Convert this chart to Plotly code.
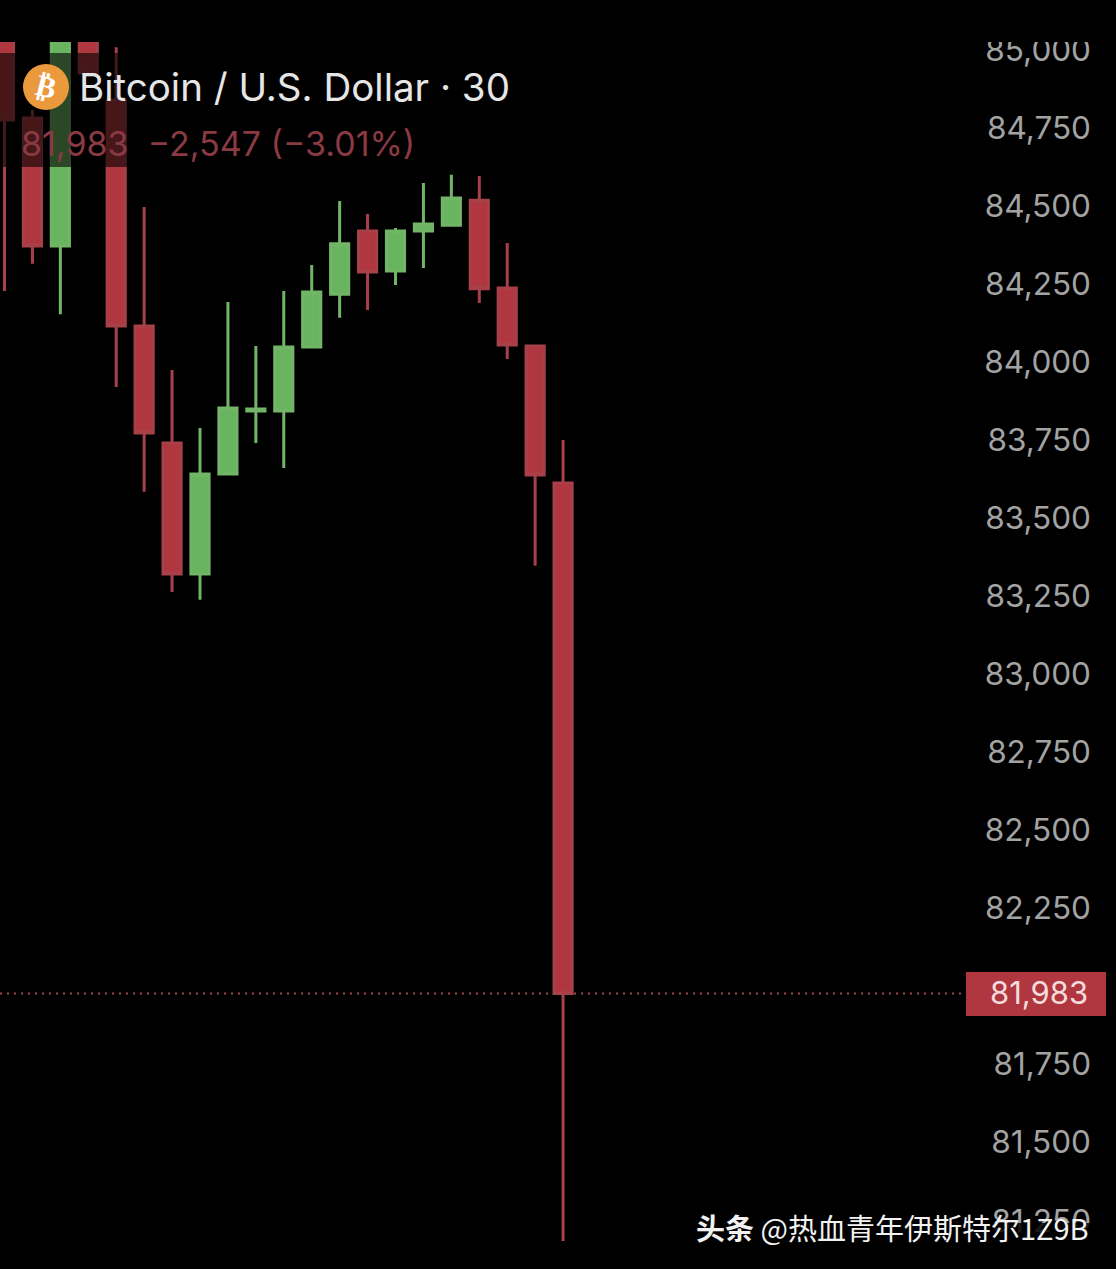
import plotly.graph_objects as go

W = 1116
H = 1269

candle_idx = list(range(21))
opens = [85100, 84787, 84377, 85060, 84845, 84121, 83746, 83327, 83647, 83849, 83849,
         84054, 84223, 84425, 84297, 84425, 84444, 84524, 84243, 84057, 83618]
highs = [85150, 84813, 85090, 85080, 85014, 84502, 83980, 83794, 84198, 84057, 84233,
         84316, 84521, 84480, 84435, 84579, 84605, 84601, 84387, 84060, 83756]
lows = [84233, 84320, 84159, 84931, 83926, 83590, 83269, 83244, 83647, 83746, 83666,
        84051, 84147, 84172, 84252, 84307, 84444, 84195, 84015, 83353, 81191]
closes = [84781, 84377, 85060, 84931, 84121, 83778, 83327, 83647, 83858, 83855, 84054,
          84230, 84384, 84294, 84425, 84448, 84531, 84240, 84060, 83644, 81983]

price_ticks = [85000, 84750, 84500, 84250, 84000, 83750, 83500, 83250, 83000,
               82750, 82500, 82250, 81750, 81500, 81250]
price_labels = ["85,000", "84,750", "84,500", "84,250", "84,000", "83,750", "83,500", "83,250", "83,000",
                "82,750", "82,500", "82,250", "81,750", "81,500", "81,250"]
last_price = 81983


def px_x(x):
    return x / W


def px_y(y):
    return 1 - y / H


fig = go.Figure()
fig.add_candlestick(
    x=candle_idx,
    open=opens,
    high=highs,
    low=lows,
    close=closes,
    increasing=dict(fillcolor="#69b55f", line=dict(color="#72b569", width=3)),
    decreasing=dict(fillcolor="#b0373f", line=dict(color="#a8404a", width=3)),
    whiskerwidth=0,
    showlegend=False,
)

shapes = [
    # dim band behind the header text
    dict(type="rect", xref="paper", yref="paper", x0=0, x1=px_x(520), y0=px_y(167), y1=px_y(53),
         fillcolor="rgba(0,0,0,0.6)", line_width=0),
    # top strip cuts the candles and the 85,000 label
    dict(type="rect", xref="paper", yref="paper", x0=0, x1=1, y0=px_y(42), y1=1,
         fillcolor="#000000", line_width=0),
    # watermark shadow over 81,250
    dict(type="rect", xref="paper", yref="paper", x0=px_x(980), x1=px_x(1095), y0=px_y(1240), y1=px_y(1223),
         fillcolor="rgba(0,0,0,0.85)", line_width=0),
    # last price line and its box
    dict(type="line", xref="paper", yref="y", x0=0, x1=px_x(966), y0=last_price, y1=last_price,
         line=dict(color="#a04850", width=2, dash="2px,5px")),
    dict(type="rect", xref="paper", yref="paper", x0=px_x(966), x1=px_x(1106), y0=px_y(1016), y1=px_y(972),
         fillcolor="#b0363f", line_width=0),
    # logo
    dict(type="circle", xref="paper", yref="paper", x0=px_x(23), x1=px_x(69), y0=px_y(110), y1=px_y(64),
         fillcolor="#ea9a3c", line_width=0),
]

annotations = [
    dict(text="<b>₿</b>", x=px_x(46), y=px_y(87), xanchor="center", textangle=14,
         font=dict(family="DejaVu Sans", size=30, color="#ffffff")),
    dict(text="Bitcoin / U.S. Dollar · 30", x=px_x(77), y=px_y(87), xanchor="left",
         font=dict(family="Inter", size=38.5, color="#e6e6e6")),
    dict(text="81,983  −2,547 (−3.01%)", x=px_x(19), y=px_y(143), xanchor="left",
         font=dict(family="Inter", size=34, color="#8a3a42")),
    dict(text=f"{last_price:,}", x=px_x(1039), y=px_y(992), xanchor="center",
         font=dict(family="Inter", size=31, color="#f4dcdc")),
    dict(text="<b>头条</b> @热血青年伊斯特尔1Z9B", x=px_x(1091), y=px_y(1227), xanchor="right",
         font=dict(family="Noto Sans CJK SC", size=29, color="#f2f2f2")),
]
for a in annotations:
    a.update(xref="paper", yref="paper", yanchor="middle", showarrow=False)

fig.update_layout(
    width=W,
    height=H,
    margin=dict(l=0, r=0, t=0, b=0),
    paper_bgcolor="#000000",
    plot_bgcolor="#000000",
    boxgap=0.35,
    boxgroupgap=0,
    shapes=shapes,
    annotations=annotations,
    xaxis=dict(
        visible=False,
        range=[-0.161, 39.01],
        domain=[0, 1094 / W],
        rangeslider=dict(visible=False),
    ),
    yaxis=dict(
        side="right",
        range=[81101, 85165],
        tickvals=price_ticks,
        ticktext=price_labels,
        ticklabelposition="inside",
        ticklabelshift=-2,
        tickfont=dict(family="Inter", size=31.5, color="#a3a3a3"),
        showgrid=False,
        zeroline=False,
        showline=False,
        ticks="",
    ),
)

fig.write_html(
    "out.html",
    config={"displayModeBar": False},
    post_script="document.body.style.margin='0';document.body.style.background='#000';",
)
